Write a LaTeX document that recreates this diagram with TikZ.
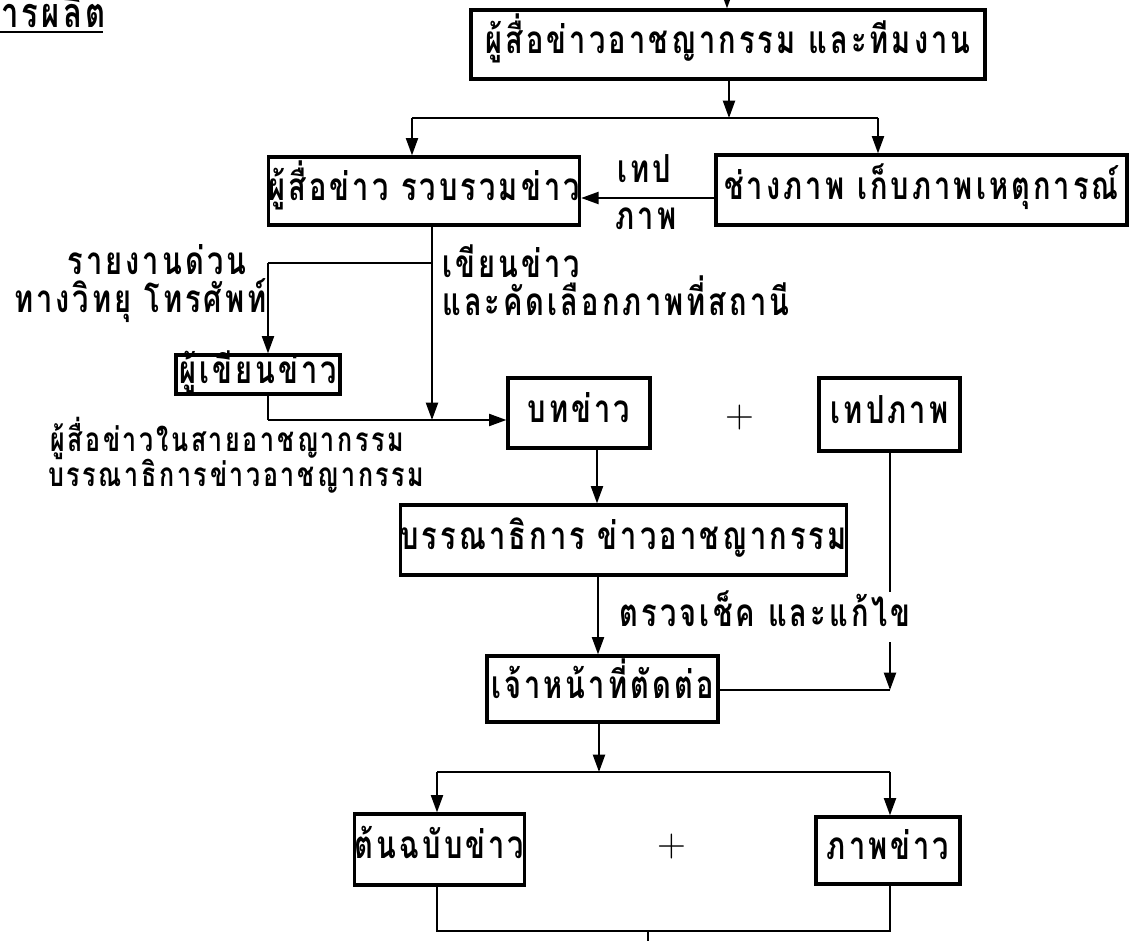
\documentclass[tikz,border=0pt]{standalone}
\usepackage{fontspec}
\usetikzlibrary{arrows.meta}
\newfontfamily\thai[Script=Thai,FakeStretch=0.75,LetterSpace=8]{Loma}
\begin{document}
\begin{tikzpicture}[x=0.75pt,y=-0.75pt,
  thtext/.style={font=\thai\bfseries\fontsize{29}{33}\selectfont,text height=14pt,text depth=0pt},
  box/.style={draw,line width=2.4pt,inner sep=0pt,thtext},
  lbl/.style={inner sep=0pt,thtext},
  small/.style={font=\thai\bfseries\fontsize{25}{29}\selectfont,text height=12pt,text depth=0pt},
  conn/.style={line width=1.6pt},
  arr/.style={conn,-{Triangle[length=13pt,width=9pt]}},
  plus/.style={inner sep=0pt,font=\fontsize{30}{30}\selectfont},
]
\useasboundingbox (0,0) rectangle (1143,941);
% title
\node[inner sep=0pt,anchor=south east,font=\thai\bfseries\fontsize{31}{35}\selectfont,text height=15pt,text depth=0pt] (title) at (106,28) {การผลิต};
\draw[line width=1.8pt] (title.south west |- 0,32) -- (103,32);
% boxes
\node[box,minimum width=385.5pt,minimum height=51.75pt] (top) at (728,44.5) {ผู้สื่อข่าวอาชญากรรม และทีมงาน};
\node[box,minimum width=231pt,minimum height=51pt] (rep) at (424,191) {ผู้สื่อข่าว รวบรวมข่าว};
\node[box,minimum width=308.25pt,minimum height=52.5pt] (photo) at (921.5,190) {ช่างภาพ เก็บภาพเหตุการณ์};
\node[box,minimum width=123pt,minimum height=29.25pt] (writer) at (258,374.5) {ผู้เขียนข่าว};
\node[box,minimum width=106.5pt,minimum height=52.5pt] (script) at (579,413) {บทข่าว};
\node[box,minimum width=105.75pt,minimum height=54.75pt] (tape) at (889.5,414.5) {เทปภาพ};
\node[box,minimum width=320.25pt,minimum height=52.5pt] (editor) at (623.5,540) {บรรณาธิการ ข่าวอาชญากรรม};
\node[box,minimum width=173.25pt,minimum height=49.5pt] (cut) at (602.5,689) {เจ้าหน้าที่ตัดต่อ};
\node[box,minimum width=114.75pt,minimum height=53.25pt] (orig) at (439.5,849.5) {ต้นฉบับข่าว};
\node[box,minimum width=108pt,minimum height=50.25pt] (pic) at (888,850.5) {ภาพข่าว};
% plus signs
\node[plus] (plus1) at (740,418) {+};
\node[plus] (plus2) at (672,847) {+};
% coordinates
\coordinate (in0) at (727,-20);
\coordinate (j1) at (729,118);
\coordinate (jl) at (412,118);
\coordinate (jr) at (878,118);
\coordinate (py) at (0,198);
\coordinate (j2) at (432,263);
\coordinate (wl) at (268,263);
\coordinate (j3) at (432,420);
\coordinate (wb) at (268,420);
\coordinate (sx) at (597,0);
\coordinate (sx2) at (598,0);
\coordinate (tx) at (890,690);
\coordinate (j4) at (599,772);
\coordinate (ol) at (437,772);
\coordinate (pr) at (890,772);
\coordinate (b1) at (437,931);
\coordinate (b2) at (890,931);
\coordinate (bm) at (648,931);
\coordinate (bout) at (648,945);
% connectors
\draw[arr] (in0) -- (top.north -| in0);
\draw[arr] (top.south -| j1) -- (j1);
\draw[conn] (jl) -- (jr);
\draw[arr] (jl) -- (rep.north -| jl);
\draw[arr] (jr) -- (photo.north -| jr);
\draw[arr] (photo.west |- py) -- (rep.east |- py);
\node[lbl] (lt1) at (644,173) {เทป};
\node[lbl] (lt2) at (646,220) {ภาพ};
\draw[arr] (rep.south -| j2) -- (j3);
\draw[conn] (j2) -- (wl);
\draw[arr] (wl) -- (writer.north -| wl);
\draw[conn] (writer.south -| wb) -- (wb);
\draw[arr] (wb) -- (script.west |- wb);
\draw[arr] (script.south -| sx) -- (editor.north -| sx);
\draw[arr] (editor.south -| sx2) -- (cut.north -| sx2);
\draw[arr] (tape.south -| tx) -- (tx);
\draw[conn] (cut.east |- tx) -- (tx);
\draw[arr] (cut.south -| j4) -- (j4);
\draw[conn] (ol) -- (pr);
\draw[arr] (ol) -- (orig.north -| ol);
\draw[arr] (pr) -- (pic.north -| pr);
\draw[conn] (orig.south -| b1) -- (b1) -- (b2) -- (pic.south -| b2);
\draw[conn] (bm) -- (bout);
% labels
\node[lbl] (l1) at (157,265) {รายงานด่วน};
\node[lbl,anchor=east] (l2) at (267,303) {ทางวิทยุ โทรศัพท์};
\node[lbl,anchor=west] (l3) at (442,268) {เขียนข่าว};
\node[lbl,anchor=west] (l4) at (442,306) {และคัดเลือกภาพที่สถานี};
\node[lbl,small,anchor=west] (l5) at (50,443) {ผู้สื่อข่าวในสายอาชญากรรม};
\node[lbl,small,anchor=west] (l6) at (48,478) {บรรณาธิการข่าวอาชญากรรม};
\node[lbl,anchor=west,fill=white,inner xsep=2pt,inner ysep=12pt] (l7) at (617,617) {ตรวจเช็ค และแก้ไข};
\end{tikzpicture}
\end{document}
